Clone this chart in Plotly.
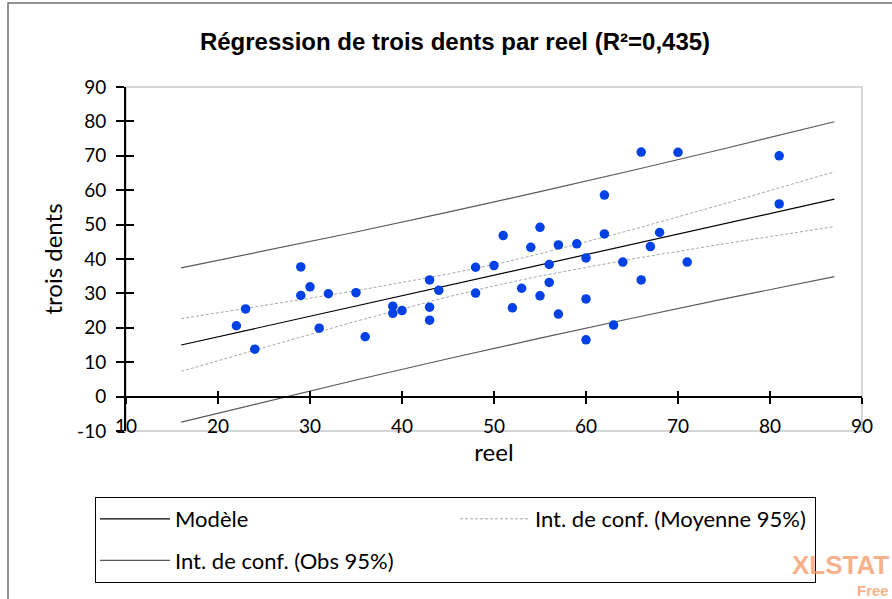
import plotly.graph_objects as go

# Observations (reel, trois dents)
reel = [23, 22, 24, 29, 29, 30, 32, 31, 35,
        36, 39, 39, 40, 43, 43, 43, 44, 48, 48, 50, 51, 52, 53, 54, 55, 55, 56, 56, 57, 57, 59, 60, 60, 60,
        66, 70, 81, 62, 81, 62, 68, 67, 64, 71, 66, 63]
trois_dents = [25.5, 20.6, 13.8, 37.7, 29.4, 31.9, 29.9, 19.9, 30.2,
               17.4, 26.3, 24.2, 25.0, 33.9, 26.0, 22.2, 30.9, 37.6, 30.1, 38.1, 46.8, 25.8, 31.5, 43.4, 49.2, 29.3,
               38.4, 33.2, 44.1, 24.0, 44.4, 40.3, 28.4, 16.5,
               71.1, 71.0, 70.0, 58.6, 56.0, 47.3, 47.7, 43.6, 39.1, 39.1, 33.9, 20.8]

# Model and confidence bands
line_x = [16, 25, 35, 45, 50.7, 55, 65, 75, 87]
modele = [15.0, 20.37, 26.34, 32.31, 35.72, 38.28, 44.25, 50.22, 57.39]
moy_sup = [22.65, 26.41, 30.77, 35.62, 38.82, 41.50, 48.49, 56.02, 65.34]
moy_inf = [7.35, 14.33, 21.91, 29.00, 32.62, 35.06, 40.01, 44.42, 49.44]
obs_sup = [37.40, 42.27, 47.85, 53.62, 57.00, 59.57, 65.72, 72.05, 79.89]
obs_inf = [-7.40, -1.53, 4.83, 11.00, 14.44, 16.99, 22.78, 28.39, 34.89]

x_ticks = [10, 20, 30, 40, 50, 60, 70, 80, 90]
y_ticks = [-10, 0, 10, 20, 30, 40, 50, 60, 70, 80, 90]

W, H = 892, 599
L, R, T, B = 126, 30, 87, 168
pw, ph = W - L - R, H - T - B

def px_x(p):  # pixel column -> paper x
    return (p - L) / pw

def px_y(p):  # pixel row -> paper y
    return (H - B - p) / ph

TICKFONT = dict(family="Lato, 'Open Sans', sans-serif", size=19, color="black")
TITLEFONT = dict(family="Lato, sans-serif", size=24, color="black")
fig = go.Figure()

fig.add_trace(go.Scatter(x=line_x, y=modele, mode="lines", name="Modèle",
                         line=dict(color="black", width=1.2), legendgroup="m"))
fig.add_trace(go.Scatter(x=line_x, y=moy_sup, mode="lines", name="Int. de conf. (Moyenne 95%)",
                         line=dict(color="#a6a6a6", width=1, dash="3px,2px"), legendgroup="moy"))
fig.add_trace(go.Scatter(x=line_x, y=obs_sup, mode="lines", name="Int. de conf. (Obs 95%)",
                         line=dict(color="#595959", width=1.2), legendgroup="obs"))
fig.add_trace(go.Scatter(x=line_x, y=moy_inf, mode="lines", showlegend=False,
                         line=dict(color="#a6a6a6", width=1, dash="3px,2px"), legendgroup="moy"))
fig.add_trace(go.Scatter(x=line_x, y=obs_inf, mode="lines", showlegend=False,
                         line=dict(color="#595959", width=1.2), legendgroup="obs"))
fig.add_trace(go.Scatter(x=reel, y=trois_dents, mode="markers", showlegend=False, name="trois dents",
                         marker=dict(color="#0041e6", size=9.5, line=dict(width=0))))
# helper trace for inner halves of crossing ticks
fig.add_trace(go.Scatter(x=[None], y=[None], xaxis="x2", yaxis="y2", showlegend=False, hoverinfo="skip"))

y0_frac = (0 - y_ticks[0]) / (y_ticks[-1] - y_ticks[0])
WM = "rgba(245,150,100,0.75)"

fig.update_layout(
    width=W, height=H,
    margin=dict(l=L, r=R, t=T, b=B, autoexpand=False),
    paper_bgcolor="white", plot_bgcolor="white",
    title=dict(text="<b>Régression de trois dents par reel (R²=0,435)</b>",
               x=455 / W, xanchor="center", y=1 - 42 / H, yanchor="middle",
               font=dict(family="Liberation Sans, Arial, sans-serif", size=24, color="black")),
    xaxis=dict(range=[10, 90], tickvals=x_ticks, ticktext=[str(v) for v in x_ticks],
               anchor="free", position=y0_frac,
               showline=True, linecolor="black", linewidth=2,
               ticks="outside", ticklen=6, tickwidth=1.5, tickcolor="black",
               ticklabelstandoff=7,
               showgrid=False, zeroline=False, tickfont=TICKFONT,
               title=dict(text="reel", font=TITLEFONT, standoff=1)),
    yaxis=dict(range=[-10, 90], tickvals=y_ticks, ticktext=[str(v) for v in y_ticks],
               showline=True, linecolor="black", linewidth=2,
               ticks="outside", ticklen=8, tickwidth=1.5, tickcolor="black",
               ticklabelstandoff=6,
               showgrid=False, zeroline=False, tickfont=TICKFONT,
               title=dict(text="trois dents", font=TITLEFONT, standoff=8)),
    xaxis2=dict(range=[10, 90], tickvals=x_ticks, overlaying="x", anchor="free", position=y0_frac,
                ticks="inside", ticklen=6, tickwidth=1.5, tickcolor="black",
                showticklabels=False, showgrid=False, zeroline=False, showline=False),
    yaxis2=dict(range=[-10, 90], tickvals=y_ticks, overlaying="y", anchor="x", side="left",
                ticks="inside", ticklen=8, tickwidth=1.5, tickcolor="black",
                showticklabels=False, showgrid=False, zeroline=False, showline=False),
    legend=dict(orientation="h", x=px_x(95), y=px_y(497),
                xanchor="left", yanchor="top",
                entrywidth=275, entrywidthmode="pixels", itemwidth=70,
                bordercolor="black", borderwidth=1, bgcolor="white",
                font=dict(family="Lato, sans-serif", size=22, color="black")),
    shapes=[
        dict(type="rect", xref="paper", yref="paper", x0=0, x1=1, y0=0, y1=1,
             line=dict(color="#c8c8c8", width=1.5), layer="below"),
        dict(type="rect", xref="paper", yref="paper",
             x0=px_x(8), x1=px_x(W + 20), y0=px_y(H + 20), y1=px_y(3),
             line=dict(color="#6e6e6e", width=1.5), layer="below"),
    ],
    annotations=[
        dict(text="<b>XLSTAT</b>", xref="paper", yref="paper", x=px_x(891), y=px_y(565),
             xanchor="right", yanchor="middle", showarrow=False,
             font=dict(family="Liberation Sans, Arial, sans-serif", size=26, color=WM)),
        dict(text="<b>Free</b>", xref="paper", yref="paper", x=px_x(891), y=px_y(590),
             xanchor="right", yanchor="middle", showarrow=False,
             font=dict(family="Liberation Sans, Arial, sans-serif", size=15, color=WM)),
    ],
)

fig.write_html("out.html", config={"displayModeBar": False},
               post_script="document.body.style.margin='0';")
